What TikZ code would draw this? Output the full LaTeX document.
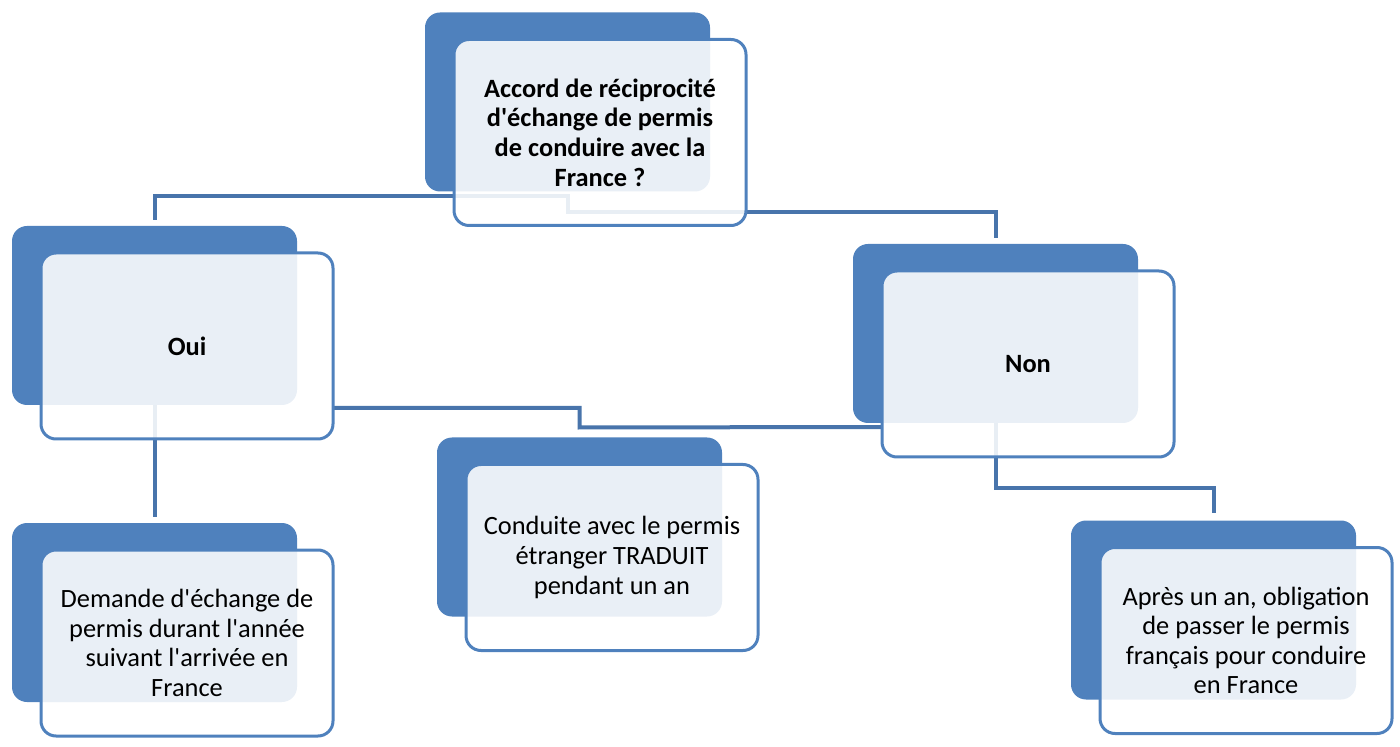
\documentclass[tikz,border=0pt]{standalone}
\usepackage{fontspec}
\setmainfont{Carlito}
\usepackage{tikz}
\usetikzlibrary{positioning}
\usetikzlibrary{calc}
\usetikzlibrary{backgrounds}
\definecolor{boxblue}{HTML}{4F81BD}
\definecolor{linkblue}{HTML}{4874AB}
\newcommand{\apos}{\textquotesingle}

\begin{document}
\begin{tikzpicture}[x=0.5pt,y=-0.5pt,
	every node/.style={outer sep=0pt,font=\fontsize{13.2}{14.8}\selectfont},
	boldtext/.style={font=\fontsize{13.2}{14.8}\selectfont\bfseries},
	backbox/.style={fill=boxblue,rounded corners=7.5pt,minimum width=142.5pt,minimum height=89.5pt,inner sep=0pt},
	frontbox/.style={draw=boxblue,line width=1.5pt,fill=white,fill opacity=0.88,text opacity=1,rounded corners=7.5pt,minimum width=146pt,minimum height=93pt,inner sep=0pt,align=center},
	link/.style={draw=linkblue,line width=2pt}]
		\useasboundingbox (0,0) rectangle (1400,747);
		% back boxes
		\node[backbox] (top-b) at (567.5,102) {};
		\node[backbox] (oui-b) at (154.5,315.5) {};
		\node[backbox] (non-b) at (995.5,333.5) {};
		\node[backbox] (dem-b) at (154.5,612.5) {};
		\node[backbox] (con-b) at (579.5,527) {};
		\node[backbox] (apr-b) at (1213.5,610) {};
		% front boxes
		\node[frontbox,boldtext,below right=13.5pt and 14.5pt of top-b.north west] (top) {Accord de réciprocité\\d\apos échange de permis\\de conduire avec la\\France ?};
		\node[frontbox,boldtext,below right=13.5pt and 14.5pt of oui-b.north west] (oui) {Oui};
		\node[frontbox,boldtext,below right=13.5pt and 14.5pt of non-b.north west] (non) {Non};
		\node[frontbox,below right=13.5pt and 14.5pt of dem-b.north west] (dem) {Demande d\apos échange de\\permis durant l\apos année\\suivant l\apos arrivée en\\France};
		\node[frontbox,below right=13.5pt and 14.5pt of con-b.north west] (con) {Conduite avec le permis\\étranger TRADUIT\\pendant un an};
		\node[frontbox,below right=13.5pt and 14.5pt of apr-b.north west] (apr) {Après un an, obligation\\de passer le permis\\français pour conduire\\en France};
		% connectors
		\begin{scope}[on background layer]
		\draw[link] ($(oui-b.north)+(0,-6)$) |- ($(top-b.south)+(0,5)$) -- ($(top-b.south)+(0,21)$) -| ($(non-b.north)+(0,-6)$);
		\draw[link] (oui-b.south) -- ($(dem-b.north)+(0,-6)$);
		\draw[link] ($(oui-b.south -| oui.east)+(0,3)$) -| ($(con-b.north)+(0,-10)$) -- ($(non-b.south -| non.west)+(0,4)$);
		\draw[link] (non-b.south) -- ++(0,65) -| ($(apr-b.north)+(0,-8)$);
		\end{scope}
\end{tikzpicture}
\end{document}
